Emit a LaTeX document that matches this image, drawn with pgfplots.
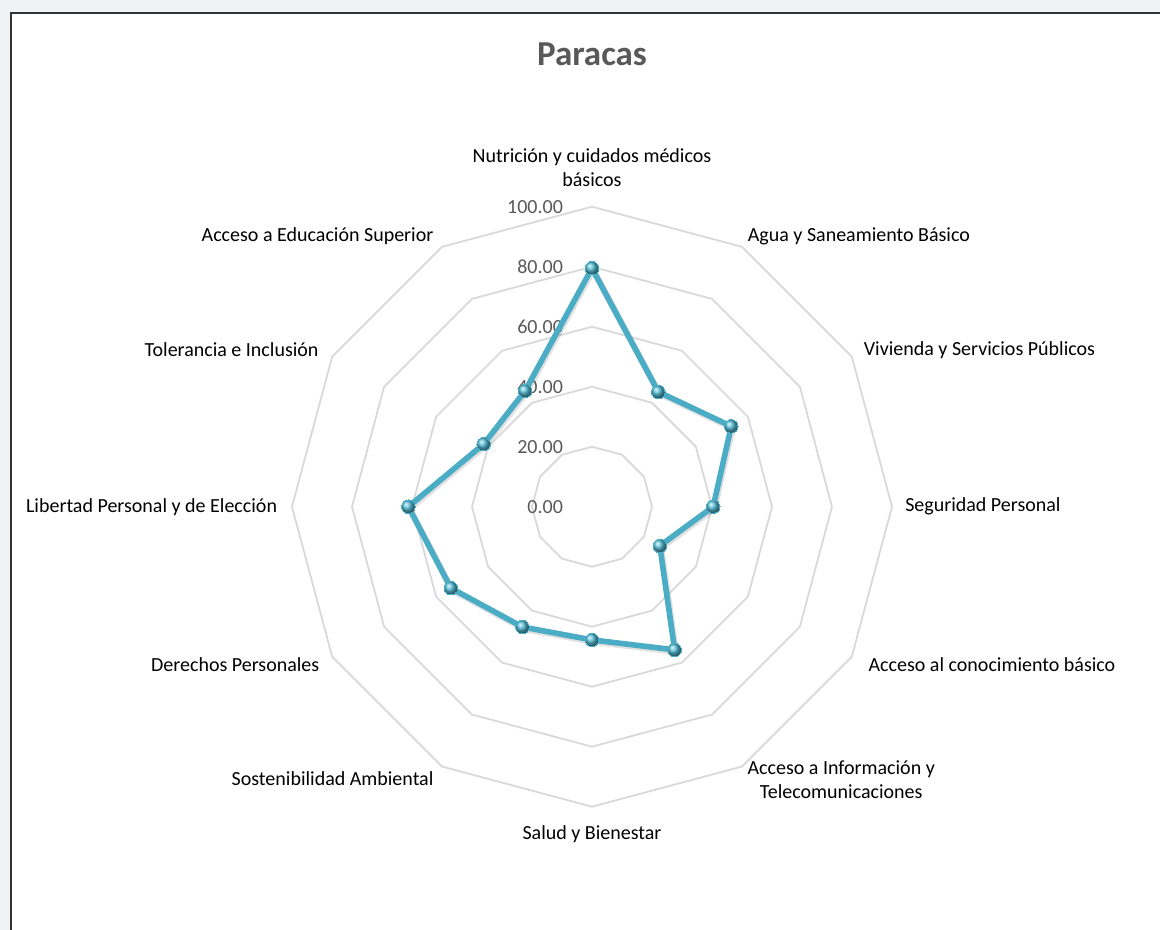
\documentclass[border=0pt]{standalone}
\usepackage{fontspec}
\setmainfont{Carlito}
\usepackage{pgfplots}
\pgfplotsset{compat=1.18}
\usepgfplotslibrary{polar}
\usetikzlibrary{calc}
\definecolor{serie}{RGB}{75,172,198}
\definecolor{bola}{RGB}{85,190,215}
\definecolor{anillo}{RGB}{217,217,217}
\definecolor{textogris}{RGB}{89,89,89}
\definecolor{fondo}{RGB}{240,242,243}

\begin{document}
\begin{tikzpicture}
\begin{polaraxis}[
  width=300pt, height=300pt, scale only axis,
  xmin=0, xmax=360, ymin=0, ymax=100,
  hide axis, clip=false,
  every node/.append style={font=\fontsize{9.8}{11.7}\selectfont, text=black!85}
]
\coordinate (c) at (axis cs:0,0);
% anillos de la rejilla
\addplot[anillo, line width=0.9pt, mark=none] coordinates {(0,20) (30,20) (60,20) (90,20) (120,20) (150,20) (180,20) (210,20) (240,20) (270,20) (300,20) (330,20) (360,20)};
\addplot[anillo, line width=0.9pt, mark=none] coordinates {(0,40) (30,40) (60,40) (90,40) (120,40) (150,40) (180,40) (210,40) (240,40) (270,40) (300,40) (330,40) (360,40)};
\addplot[anillo, line width=0.9pt, mark=none] coordinates {(0,60) (30,60) (60,60) (90,60) (120,60) (150,60) (180,60) (210,60) (240,60) (270,60) (300,60) (330,60) (360,60)};
\addplot[anillo, line width=0.9pt, mark=none] coordinates {(0,80) (30,80) (60,80) (90,80) (120,80) (150,80) (180,80) (210,80) (240,80) (270,80) (300,80) (330,80) (360,80)};
\addplot[anillo, line width=0.9pt, mark=none] coordinates {(0,100) (30,100) (60,100) (90,100) (120,100) (150,100) (180,100) (210,100) (240,100) (270,100) (300,100) (330,100) (360,100)};
% valores del eje
\node[anchor=east, xshift=-11pt, text=textogris] at (axis cs:90,0) {0.00};
\node[anchor=east, xshift=-11pt, text=textogris] at (axis cs:90,20) {20.00};
\node[anchor=east, xshift=-11pt, text=textogris] at (axis cs:90,40) {40.00};
\node[anchor=east, xshift=-11pt, text=textogris] at (axis cs:90,60) {60.00};
\node[anchor=east, xshift=-11pt, text=textogris] at (axis cs:90,80) {80.00};
\node[anchor=east, xshift=-11pt, text=textogris] at (axis cs:90,100) {100.00};
% sombra suave de la serie
\addplot[black, opacity=0.12, line width=3.2pt, line join=round, mark=none,
  shift={(0.6pt,-0.9pt)}] coordinates {
  (90,79.5) (60,44.2) (30,53.6) (0,40.4) (330,26.1) (300,55.1) (270,44.4)
  (240,46.3) (210,54.3) (180,61.2) (150,41.7) (120,44.6) (90,79.5)};
% serie
\addplot[serie, line width=2.8pt, line join=round, mark=ball, mark size=3.4pt,
  mark options={ball color=bola, line width=0pt, draw=none}] coordinates {
  (90,79.5) (60,44.2) (30,53.6) (0,40.4) (330,26.1) (300,55.1) (270,44.4)
  (240,46.3) (210,54.3) (180,61.2) (150,41.7) (120,44.6) (90,79.5)};
% categorias
\node[align=center] at (axis cs:90,113) {Nutrición y cuidados médicos\\básicos};
\node at (axis cs:45.4,126.7) {Agua y Saneamiento Básico};
\node at (axis cs:22.0,139.3) {Vivienda y Servicios Públicos};
\node at (axis cs:0,130.3) {Seguridad Personal};
\node at (axis cs:338.4,143.4) {Acceso al conocimiento básico};
\node[align=center] at (axis cs:312.4,123.2) {Acceso a Información y\\Telecomunicaciones};
\node at (axis cs:270,109.1) {Salud y Bienestar};
\node at (axis cs:226.4,125.4) {Sostenibilidad Ambiental};
\node at (axis cs:203.9,130.1) {Derechos Personales};
\node at (axis cs:180,146.8) {Libertad Personal y de Elección};
\node at (axis cs:156.5,131.0) {Tolerancia e Inclusión};
\node at (axis cs:135.4,128.5) {Acceso a Educación Superior};
% titulo
\node[anchor=base, font=\fontsize{17.5}{21}\selectfont\bfseries, text=textogris] at (axis cs:90,147.2) {Paracas};
\end{polaraxis}
\pgfresetboundingbox
\path[use as bounding box] ($(c)+(-296pt,-211.65pt)$) rectangle ($(c)+(284pt,253.35pt)$);
\fill[fondo] ($(c)+(-296pt,246.85pt)$) rectangle ($(c)+(284pt,253.35pt)$);
\fill[fondo] ($(c)+(-296pt,-211.65pt)$) rectangle ($(c)+(-290.5pt,253.35pt)$);
\draw[black!80, line width=1pt] ($(c)+(-290.5pt,-213pt)$) -- ($(c)+(-290.5pt,246.85pt)$) -- ($(c)+(285pt,246.85pt)$);
\end{tikzpicture}
\end{document}
